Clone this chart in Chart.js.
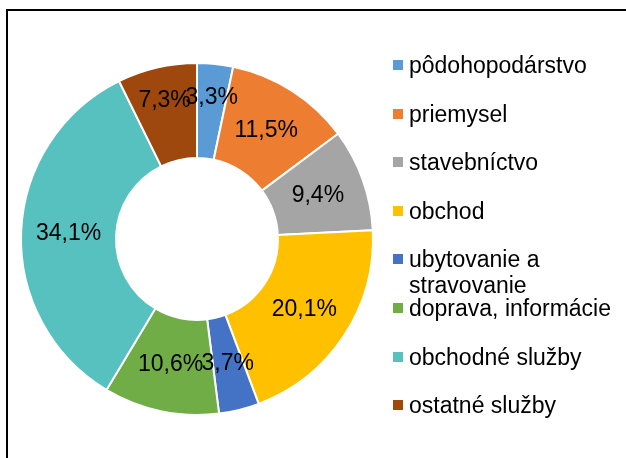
<!DOCTYPE html>
<html>
<head>
<meta charset="utf-8">
<script src="https://cdn.jsdelivr.net/npm/chart.js"></script>
<style>
  html, body { margin: 0; padding: 0; background: #fff; }
  #wrap { position: relative; width: 626px; height: 458px; overflow: hidden; font-family: "Liberation Sans", Arial, sans-serif; }
  #frame { position: absolute; left: 6px; top: 9px; width: 700px; height: 600px; border-top: 2px solid #000; border-left: 2px solid #000; }
  #chart { position: absolute; left: 0; top: 0; }
  #legend { position: absolute; left: 393px; top: 0; }
  .item { position: absolute; left: 0; width: 230px; font-size: 23px; line-height: 26px; color: #000; white-space: normal; }
  .item span.box { position: absolute; left: 0; top: 8px; width: 10px; height: 10px; }
  .item span.txt { display: block; margin-left: 16px; width: 214px; }
</style>
</head>
<body>
<div id="wrap">
  <div id="frame"></div>
  <canvas id="chart" width="626" height="458"></canvas>
  <div id="legend"></div>
</div>
<script>
// sectors and their shares (%)
const categories = ['pôdohopodárstvo', 'priemysel', 'stavebníctvo', 'obchod', 'ubytovanie a stravovanie', 'doprava, informácie', 'obchodné služby', 'ostatné služby'];
const shares = [3.3, 11.5, 9.4, 20.1, 3.7, 10.6, 34.1, 7.3];
const colors = ['#5B9BD5', '#ED7D31', '#A5A5A5', '#FFC000', '#4472C4', '#70AD47', '#57C1BF', '#9E480E'];

// legend (html)
const legend = document.getElementById('legend');
categories.forEach((c, i) => {
    const el = document.createElement('div');
    el.className = 'item';
    el.style.top = (52 + i * 48.6) + 'px';
    el.innerHTML = '<span class="box" style="background:' + colors[i] + '"></span><span class="txt">' + c + '</span>';
    legend.appendChild(el);
});

// percentage labels in the middle of the ring
const sliceLabels = {
    id: 'sliceLabels',
    afterDatasetsDraw(chart, args, opts) {
        const ctx = chart.ctx;
        const meta = chart.getDatasetMeta(0);
        ctx.save();
        ctx.font = '23px "Liberation Sans", Arial, sans-serif';
        ctx.fillStyle = '#000';
        ctx.textAlign = 'center';
        ctx.textBaseline = 'middle';
        meta.data.forEach((arc, i) => {
            const p = arc.tooltipPosition();
            const shift = (opts.shift && opts.shift[i]) || 0;
            const a = (arc.startAngle + arc.endAngle) / 2;
            const x = p.x + Math.cos(a) * shift;
            const y = p.y + Math.sin(a) * shift;
            ctx.fillText(shares[i].toFixed(1).replace('.', ',') + '%', x, y);
        });
        ctx.restore();
    }
};

new Chart(document.getElementById('chart').getContext('2d'), {
    type: 'doughnut',
    data: {
        labels: categories,
        datasets: [{
            data: shares,
            backgroundColor: colors,
            borderColor: '#fff',
            borderWidth: 2
        }]
    },
    options: {
        responsive: false,
        animation: false,
        cutout: '46%',
        layout: { padding: { left: 20, top: 62, right: 252, bottom: 42 } },
        plugins: {
            legend: { display: false },
            tooltip: { enabled: false },
            sliceLabels: { shift: { 0: 14, 7: 14 } }
        }
    },
    plugins: [sliceLabels]
});
</script>
</body>
</html>
